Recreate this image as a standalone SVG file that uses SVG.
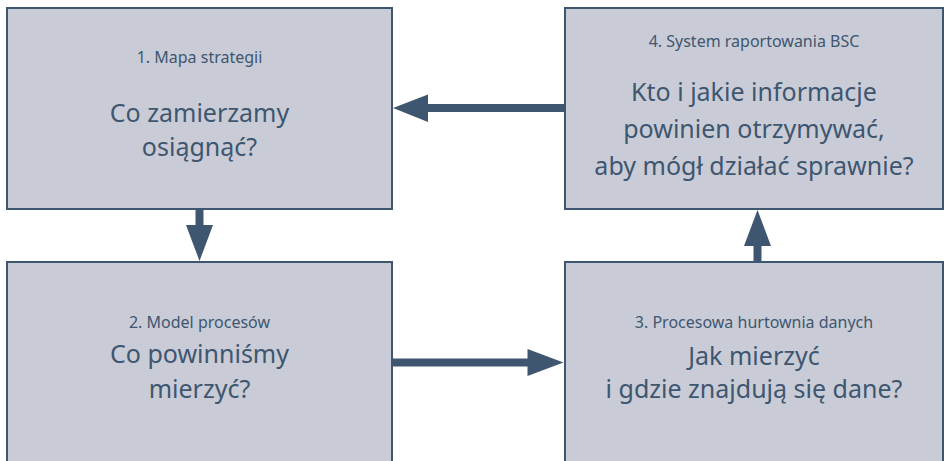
<svg xmlns="http://www.w3.org/2000/svg" width="944" height="461" viewBox="0 0 944 461">
<style>
.box{fill:#c9ccd6;stroke:#3e5670;stroke-width:2}
.t{font-family:"Noto Sans","Open Sans",sans-serif;fill:#3e5670;text-anchor:middle}
.s{font-size:16px}
.m{font-size:25px}
.line{stroke:#3e5670;stroke-width:8;fill:none}
.head{fill:#3e5670}
</style>
<rect width="944" height="461" fill="#ffffff"/>
<g id="node1">
<rect class="box" x="7" y="8" width="385" height="201"/>
<text class="t s" x="199.5" y="63">1. Mapa strategii</text>
<text class="t m" x="199.5" y="122">Co zamierzamy</text>
<text class="t m" x="199.5" y="156">osiągnąć?</text>
</g>
<g id="node4">
<rect class="box" x="565" y="8" width="378" height="201"/>
<text class="t s" x="754" y="47">4. System raportowania BSC</text>
<text class="t m" x="754" y="101">Kto i jakie informacje</text>
<text class="t m" x="754" y="138">powinien otrzymywać,</text>
<text class="t m" x="754" y="175">aby mógł działać sprawnie?</text>
</g>
<g id="node2">
<rect class="box" x="7" y="262" width="385" height="220"/>
<text class="t s" x="199.5" y="328">2. Model procesów</text>
<text class="t m" x="199.5" y="363">Co powinniśmy</text>
<text class="t m" x="199.5" y="398">mierzyć?</text>
</g>
<g id="node3">
<rect class="box" x="565" y="262" width="378" height="220"/>
<text class="t s" x="754" y="328">3. Procesowa hurtownia danych</text>
<text class="t m" x="754" y="365">Jak mierzyć</text>
<text class="t m" x="754" y="398">i gdzie znajdują się dane?</text>
</g>
<g id="connectors">
<line class="line" x1="564" y1="108" x2="426" y2="108"/>
<polygon class="head" points="393,108 428,94.5 428,122"/>
<line class="line" x1="199.5" y1="210" x2="199.5" y2="227"/>
<polygon class="head" points="186,225 213,225 199.5,261"/>
<line class="line" x1="393" y1="362.5" x2="529" y2="362.5"/>
<polygon class="head" points="527.5,349 563.5,362.5 527.5,376"/>
<line class="line" x1="757.5" y1="261" x2="757.5" y2="244"/>
<polygon class="head" points="744,246 771,246 757.5,210"/>
</g>
</svg>
